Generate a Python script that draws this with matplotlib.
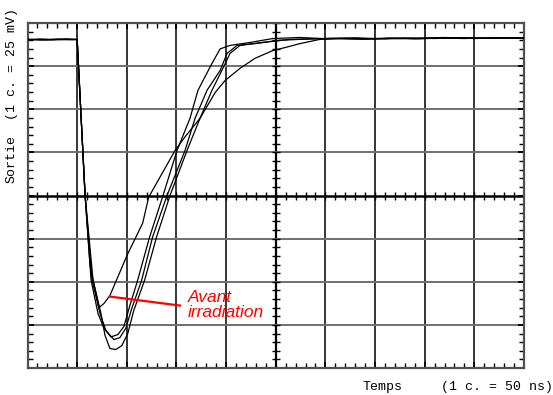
import numpy as np
import matplotlib
matplotlib.use("Agg")
import matplotlib.pyplot as plt

# oscilloscope traces, time in ns (1 div = 50 ns), output in mV (1 div = 25 mV)
a_t = [0, 12, 25, 38, 50, 58, 63, 66, 72, 77, 83, 100, 116, 122, 148.5, 158.6,
       173.7, 189, 199, 214, 229, 247, 261, 274, 294.5, 315, 340, 365, 390, 415, 440, 465, 500]
a_v = [90.3, 90.7, 90.2, 90.6, 90.4, 0, -40.6, -49, -65, -62.6, -58, -35, -16, -1, 26, 34,
       44.7, 59.7, 66.7, 73.7, 79.5, 84, 86, 88, 90.5, 90.9, 90.6, 91.1, 90.8, 91.3, 91.0, 91.4, 91.3]

b_t = [0, 15, 30, 45, 50, 58, 64, 71, 77, 84, 91, 97, 103, 111, 123, 136.5, 150.5,
       163.6, 171.7, 185.8, 194, 204, 224, 247, 274, 300, 330, 360, 390, 420, 450, 480, 500]
b_v = [90.5, 90.1, 90.7, 90.3, 90.5, 0, -49, -68.4, -77, -82, -80.6, -76, -64, -49, -24, 0, 26,
       44.7, 61, 76.6, 85, 87, 88.7, 91, 91.6, 90.9, 91.4, 90.8, 91.2, 91.6, 91.0, 91.5, 91.2]

c_t = [0, 20, 40, 50, 58, 65, 73, 79, 87, 93, 99, 105, 115, 126, 140.5, 158.6,
       168.7, 180.8, 194, 201, 211, 231, 254, 274, 305, 335, 365, 395, 425, 455, 485, 500]
c_v = [90.6, 90.2, 90.8, 90.4, 0, -49, -68.4, -78.3, -83.5, -82.4, -77, -65.5, -49, -24, 0, 26,
       44.7, 61, 72.5, 82.4, 87, 88.2, 90, 90.5, 91.1, 90.7, 91.3, 90.9, 91.5, 91.1, 91.3, 91.0]

d_t = [0, 18, 35, 50, 58, 66, 74, 78, 83, 89, 95, 101, 107, 118, 130, 143.5, 160.6,
       173.7, 185.8, 197, 204, 214, 236, 264, 290, 320, 350, 380, 410, 440, 470, 500]
d_v = [90.2, 90.6, 90.3, 90.5, 0, -49, -68.4, -81, -88.7, -89.3, -87, -80, -66.7, -49, -24, 0, 26,
       44.7, 61, 74, 82.4, 87, 88.7, 90.5, 90.9, 91.2, 90.8, 91.3, 91.0, 91.5, 91.2, 91.4]

traces = [(a_t, a_v), (b_t, b_v), (c_t, c_v), (d_t, d_v)]

# pointer from the "before irradiation" trace to its label
pointer_t = [83, 153.5]
pointer_v = [-58.6, -63.8]

W, H = 553, 395
fig = plt.figure(figsize=(W / 100, H / 100), dpi=100)
left, right, top, bottom = 27.5, 524, 23, 368
ax = fig.add_axes([left / W, 1 - bottom / H, (right - left) / W, (bottom - top) / H])
ax.set_xlim(0, 500)
ax.set_ylim(-100, 100)

# graticule
for x in range(50, 500, 50):
    ax.axvline(x, color="black", lw=1.6 if x == 250 else 1.1, zorder=1)
for y in range(-75, 100, 25):
    if y == 0:
        ax.axhline(y, color="black", lw=1.8, zorder=1)
    else:
        ax.axhline(y, color="#707070", lw=1.4, zorder=1)

for s in ax.spines.values():
    s.set_color("#505050")
    s.set_linewidth(1.6)

ax.set_xticks(np.arange(0, 501, 50))
ax.set_yticks(np.arange(-100, 101, 25))
ax.set_xticks(np.arange(0, 501, 10), minor=True)
ax.set_yticks(np.arange(-100, 101, 5), minor=True)
ax.tick_params(which="both", direction="in", top=True, right=True,
               labelbottom=False, labelleft=False, color="black")
ax.tick_params(which="minor", length=3.5, width=1)
ax.tick_params(which="major", length=4, width=1.4)

# ticks on the centre axes
ax.plot(np.arange(0, 501, 10), np.zeros(51), ls="none", marker="|",
        ms=6, mew=1, color="black", zorder=2)
ax.plot(np.full(41, 250), np.arange(-100, 101, 5), ls="none", marker="_",
        ms=6, mew=1, color="black", zorder=2)

for t, v in traces:
    ax.plot(t, v, color="black", lw=0.9, zorder=3)

ax.plot(pointer_t, pointer_v, color="red", lw=1.6, zorder=4)
ax.text(161.5, -55, "Avant\nirradiation", color="red", style="italic",
        family="Liberation Sans", fontsize=12.5, ha="left", va="top",
        linespacing=0.95, zorder=5)

mono = "Liberation Mono"
fig.text(362 / W, 1 - 390 / H, "Temps", family=mono, fontsize=9.5,
         ha="left", va="baseline")
fig.text(553 / W, 1 - 390 / H, "(1 c. = 50 ns)", family=mono, fontsize=9.5,
         ha="right", va="baseline")
fig.text(18 / W, 1 - 183 / H, "Sortie", family=mono, fontsize=9.5,
         rotation=90, ha="right", va="bottom")
fig.text(18 / W, 1 - 8 / H, "(1 c. = 25 mV)", family=mono, fontsize=9.5,
         rotation=90, ha="right", va="top")

fig.savefig("out.png", dpi=100)
